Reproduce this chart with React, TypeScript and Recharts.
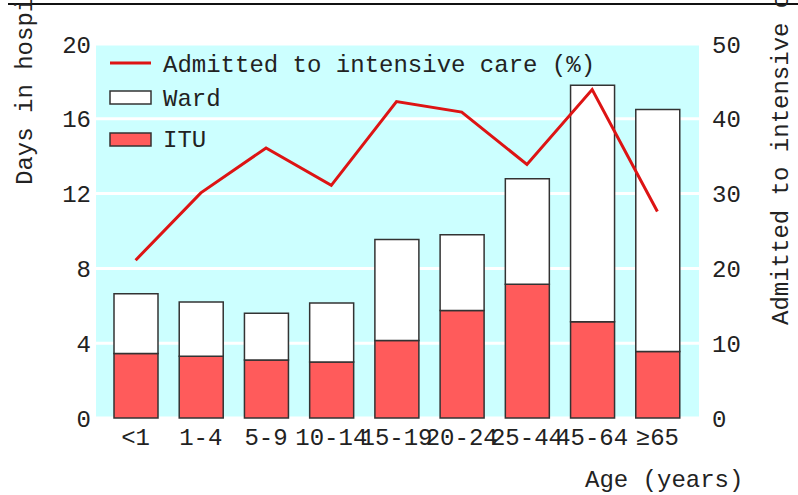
import { ComposedChart, Bar, Line, XAxis, YAxis, CartesianGrid } from 'recharts';

// values
const ageGroups = ['<1', '1-4', '5-9', '10-14', '15-19', '20-24', '25-44', '45-64', '≥65'];
const ituDays = [3.45, 3.3, 3.1, 3.0, 4.15, 5.75, 7.15, 5.15, 3.55];
const wardDays = [3.2, 2.9, 2.5, 3.15, 5.4, 4.05, 5.65, 12.65, 12.95];
const admittedPct = [21.1, 30.1, 36.1, 31.1, 42.3, 40.9, 33.9, 43.9, 27.6];
const leftTicks = [0, 4, 8, 12, 16, 20];
const rightTicks = [0, 10, 20, 30, 40, 50];

const data = ageGroups.map((age, i) => ({
  age,
  itu: ituDays[i],
  ward: wardDays[i],
  admitted: admittedPct[i],
}));

const FONT = '"Liberation Mono", "Courier New", monospace';
const TEXT = '#222';
const RED_BAR = '#ff5b5b';
const RED_LINE = '#dd1414';
const tickStyle = { fill: TEXT, fontSize: 24, fontFamily: FONT };

function Overlay() {
  const txt = { fontFamily: FONT, fontSize: 24, fill: TEXT };
  return (
    <svg
      width={798}
      height={495}
      style={{ position: 'absolute', left: 0, top: 0, pointerEvents: 'none' }}
    >
      <line x1={8} x2={798} y1={4} y2={4} stroke="#111" strokeWidth={2} />
      {/* legend */}
      <line x1={110} x2={151} y1={63} y2={63} stroke={RED_LINE} strokeWidth={3} />
      <text x={163} y={72} {...txt}>Admitted to intensive care (%)</text>
      <rect x={110} y={91} width={41} height={13} fill="#fff" stroke="#333" strokeWidth={1.5} />
      <text x={163} y={106} {...txt}>Ward</text>
      <rect x={110} y={133} width={41} height={13} fill={RED_BAR} stroke="#333" strokeWidth={1.5} />
      <text x={163} y={147} {...txt}>ITU</text>
      {/* axis titles */}
      <text x={32} y={185} transform="rotate(-90 32 185)" {...txt}>Days in hospital</text>
      <text x={788} y={325} transform="rotate(-90 788 325)" {...txt}>Admitted to intensive care (%)</text>
      <text x={585} y={487} {...txt}>Age (years)</text>
    </svg>
  );
}

export default function App() {
  return (
    <div style={{ position: 'absolute', left: 0, top: 0, width: 798, height: 495 }}>
      <ComposedChart
        width={798}
        height={495}
        data={data}
        margin={{ top: 44, right: 39, left: 36, bottom: 37 }}
      >
        <CartesianGrid
          vertical={false}
          fill="#ccffff"
          fillOpacity={1}
          stroke="#fff"
          strokeWidth={3}
          yAxisId="left"
        />
        <XAxis
          dataKey="age"
          height={40}
          interval={0}
          axisLine={false}
          tickLine={false}
          tickSize={0}
          tickMargin={10}
          padding={{ left: 7, right: 9 }}
          tick={tickStyle}
        />
        <YAxis
          yAxisId="left"
          width={60}
          domain={[0, 20]}
          ticks={leftTicks}
          axisLine={false}
          tickLine={false}
          tickSize={0}
          tickMargin={5}
          tick={tickStyle}
        />
        <YAxis
          yAxisId="right"
          orientation="right"
          width={60}
          domain={[0, 50]}
          ticks={rightTicks}
          axisLine={false}
          tickLine={false}
          tickSize={0}
          tickMargin={13}
          tick={{ ...tickStyle, textAnchor: 'start' }}
        />
        <Bar
          yAxisId="left"
          dataKey="itu"
          stackId="days"
          barSize={44}
          fill={RED_BAR}
          stroke="#333"
          strokeWidth={1.5}
          isAnimationActive={false}
        />
        <Bar
          yAxisId="left"
          dataKey="ward"
          stackId="days"
          barSize={44}
          fill="#fff"
          stroke="#333"
          strokeWidth={1.5}
          isAnimationActive={false}
        />
        <Line
          yAxisId="right"
          dataKey="admitted"
          type="linear"
          stroke={RED_LINE}
          strokeWidth={3}
          dot={false}
          activeDot={false}
          isAnimationActive={false}
        />
      </ComposedChart>
      <Overlay />
    </div>
  );
}
